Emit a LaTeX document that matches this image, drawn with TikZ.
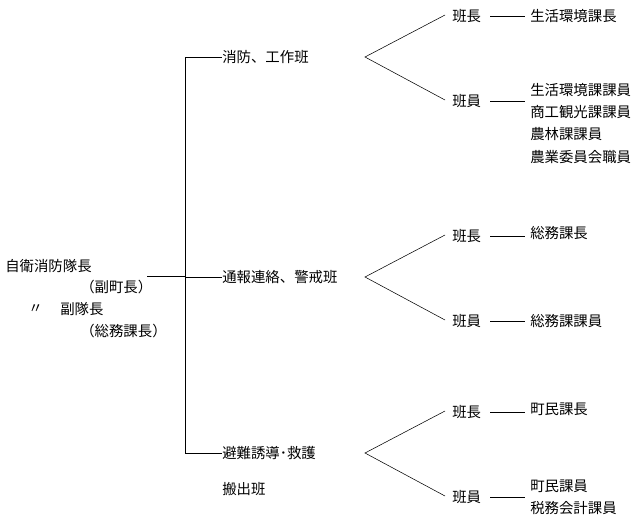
\documentclass[tikz,border=0pt]{standalone}
\usepackage{fontspec}
\newfontfamily\cjk{Noto Sans CJK JP}
\begin{document}
\begin{tikzpicture}[x=0.75pt, y=-0.75pt, every node/.style={font=\cjk\fontsize{10.8pt}{12pt}\selectfont, anchor=west, inner sep=0pt}]
    \useasboundingbox (0,0) rectangle (638,518);
    % left column
    \node (chief) at (5,266) {自衛消防隊長};
    \node (chiefsub) at (80,287) {（副町長）};
    \node (ditto) at (28,309) {〃};
    \node (vice) at (60,309) {副隊長};
    \node (vicesub) at (80,331) {（総務課長）};
    \coordinate (from) at (147,276);
    \coordinate (spine) at (185,276);
    \coordinate (top) at (185,57);
    \coordinate (bot) at (185,453);
    \draw (from) -- (spine);
    \draw (top) -- (bot);
    % the three teams
    \foreach \n/\y/\t in {fire/57/消防、工作班, info/277/通報連絡、警戒班, help/453/避難誘導･救護} {
      \coordinate (\n s) at (185,\y);
      \node (\n) at (222,\y) {\t};
      \draw (\n s) -- (\n.west);
      \coordinate (\n f) at (365,\y);
      \coordinate (\n a) at (445,\y-42);
      \coordinate (\n b) at (445,\y+43);
      \draw (\n a) -- (\n f) -- (\n b);
      \node (\n lead) at (452,\y-41) {班長};
      \node (\n mem) at (452,\y+44) {班員};
      \coordinate (\n la) at (490,\y-41);
      \coordinate (\n lb) at (525,\y-41);
      \coordinate (\n ma) at (490,\y+44);
      \coordinate (\n mb) at (525,\y+44);
      \draw (\n la) -- (\n lb);
      \draw (\n ma) -- (\n mb);
    }
    \node (help2) at (222,489) {搬出班};
    % members
    \node (r1) at (530,16) {生活環境課長};
    \node (r2) at (530,90) {生活環境課課員};
    \node (r3) at (530,112) {商工観光課課員};
    \node (r4) at (530,134) {農林課課員};
    \node (r5) at (530,157) {農業委員会職員};
    \node (r6) at (530,233) {総務課長};
    \node (r7) at (530,321) {総務課課員};
    \node (r8) at (530,409) {町民課長};
    \node (r9) at (530,486) {町民課員};
    \node (r10) at (530,508) {税務会計課員};
  \end{tikzpicture}
\end{document}
